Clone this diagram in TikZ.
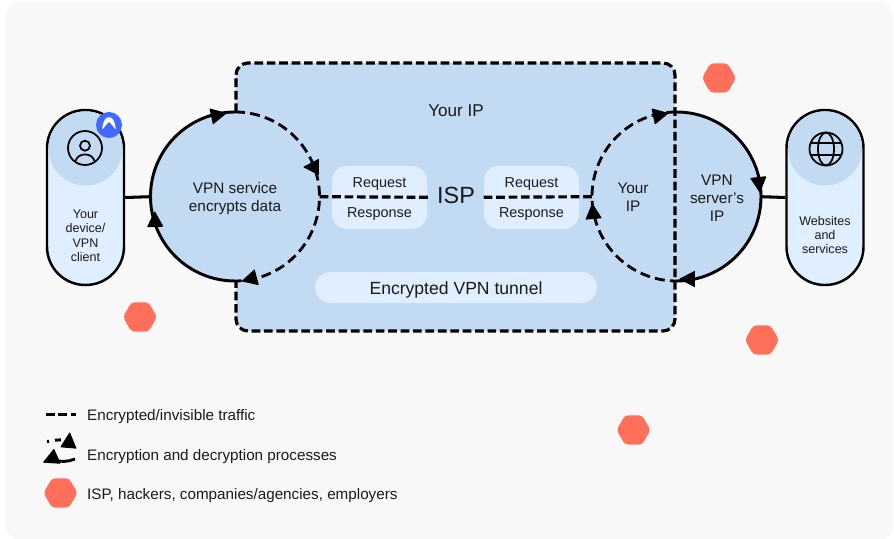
\documentclass[tikz,border=0pt]{standalone}
\usepackage{fontspec}
\setmainfont{Liberation Sans}
\usetikzlibrary{shapes.geometric}
\definecolor{pagegray}{HTML}{F8F8F8}
\definecolor{paleblue}{HTML}{E0EFFF}
\definecolor{midblue}{HTML}{C3DAF3}
\definecolor{coral}{HTML}{FF6F59}
\definecolor{badgeblue}{HTML}{4169FF}
\definecolor{inkblack}{HTML}{1A1A1A}
\begin{document}
\begin{tikzpicture}
[x=0.03cm, y=-0.03cm,
 pill/.style ={rectangle, draw=black, line width=2.1pt, fill=paleblue, minimum width=2.31cm, minimum height=5.25cm, rounded corners=1.15cm},
 crown/.style ={circle, fill=midblue, minimum size=2.22cm, inner sep=0pt},
 hub/.style ={circle, fill=midblue, minimum size=5.07cm, inner sep=0pt},
 msgbox/.style ={rectangle, fill=paleblue, minimum width=2.85cm, minimum height=1.89cm, rounded corners=0.45cm},
 lbl/.style ={text=inkblack, align=center, font=\fontsize{13.1pt}{15.3pt}\selectfont},
 small/.style ={text=inkblack, align=center, font=\fontsize{10.7pt}{12.3pt}\selectfont},
 msg/.style ={text=inkblack, align=center, font=\fontsize{12.3pt}{14pt}\selectfont},
 legend/.style ={text=inkblack, anchor=west, font=\fontsize{13pt}{15pt}\selectfont},
 spy/.style ={regular polygon, regular polygon sides=6, fill=coral, minimum size=1.02cm, inner sep=0pt, rounded corners=3pt},
 link/.style ={line width=2.6pt},
 loopline/.style ={line width=2.5pt},
 traffic/.style ={line width=2.7pt, dash pattern=on 7.4pt off 3.2pt},
 ringdash/.style ={line width=2.4pt, dash pattern=on 8.5pt off 4.5pt},
 icon/.style ={draw=black, line width=1.5pt},
 tip/.pic ={\fill[black, draw=black, line width=0.8pt, line join=round] (8,0) -- (-6.5,-7.5) -- (-6.5,7.5) -- cycle;}]
\useasboundingbox (0,0) rectangle (894,539);
\fill[white] (0,0) rectangle (894,539);
\fill[pagegray, rounded corners=0.42cm] (6,2) rectangle (893,540);
\fill[midblue, rounded corners=0.36cm] (236,63) rectangle (675,331);
\path (235,196.7) node[hub] (enc){}
      (676.5,196.7) node[hub] (dec){};
\draw[traffic, rounded corners=0.36cm] (236,112) |- (675,63) |- (236,331) -- (236,281);
\path (85.5,197.5) node[pill] (device){}
      (825,197.5) node[pill] (web){}
      (85.5,148.5) node[crown] (devcap){}
      (825,148.5) node[crown] (webcap){};
\draw[link] (device.east) -- (enc.west);
\draw[link] (dec.east) -- (web.west);
\draw[loopline] (235,112) arc[start angle=270, end angle=90, radius=84.5];
\draw[loopline] (676.5,112) arc[start angle=270, end angle=450, radius=84.5];
\draw[ringdash] (235,112) arc[start angle=270, end angle=450, radius=84.5];
\draw[ringdash] (676.5,112) arc[start angle=270, end angle=90, radius=84.5];
\path (379.5,197.5) node[msgbox] (reqa){}
      (531.5,197.5) node[msgbox] (reqb){}
      (456,287.5) node[rectangle, fill=paleblue, minimum width=8.46cm, minimum height=0.93cm, rounded corners=0.46cm] (tunnel){};
\node[text=inkblack, font=\fontsize{20pt}{24pt}\selectfont, inner sep=1pt] (isp) at (456,195) {ISP};
\draw[traffic] (enc.east) -- (430,197.3);
\draw[traffic] (dec.west) -- (481,197.3);
\path (379.5,184) node[msg] (rqa){Request}
      (379.5,214) node[msg] (rsa){Response}
      (531.5,184) node[msg] (rqb){Request}
      (531.5,214) node[msg] (rsb){Response};
\node[legend, anchor=center, font=\fontsize{15pt}{17pt}\selectfont] (tunneltxt) at (456,290) {Encrypted VPN tunnel};
\node[lbl, font=\fontsize{14.6pt}{17pt}\selectfont] (yourip) at (456,110.5) {Your IP};
\node[lbl] (enctxt) at (235,198.5) {VPN service\\encrypts data};
\node[lbl] (iptxt) at (633,197.5) {Your\\IP};
\node[lbl] (srvtxt) at (717,198.5) {VPN\\server’s\\IP};
\node[small] (devtxt) at (85.5,235.7) {Your\\device/\\VPN\\client};
\node[small] (webtxt) at (825,235) {Websites\\and\\services};
\pic[rotate=12] at (218,115) {tip};
\pic[rotate=180] at (312,167) {tip};
\pic[rotate=195] at (250,279) {tip};
\pic[rotate=92] at (155,220) {tip};
\pic[rotate=12] at (660,115) {tip};
\pic[rotate=-84] at (759,184) {tip};
\pic[rotate=180] at (688,279) {tip};
\pic[rotate=95] at (593,212) {tip};
\draw[icon] (85,148) circle (17);
\draw[icon] (85,145.7) circle (5);
\draw[icon] (75,162) .. controls (77,156) and (81,154.5) .. (85,154.5) .. controls (89,154.5) and (93,156) .. (95,162);
\node[circle, fill=badgeblue, minimum size=0.78cm, inner sep=0pt] (badge) at (109,125) {};
\fill[white, rounded corners=1pt] (102,130) .. controls (103,122) and (105,118) .. (109,117) .. controls (113,118) and (115,122) .. (116,130) -- (112,125) -- (109,121.5) -- (106,125) -- cycle;
\draw[icon] (826,149) circle (16.5);
\draw[icon] (826,149) ellipse (8 and 16.5);
\draw[icon] (811,143.3) -- (841,143.3);
\draw[icon] (811,155) -- (841,155);
\path (140,317) node[spy] (spya){}
      (719,78) node[spy] (spyb){}
      (762,340) node[spy] (spyc){}
      (633.5,430) node[spy] (spyd){}
      (60.5,493) node[spy] (spye){};
\coordinate (keystart) at (46,414.5);
\coordinate (keyend) at (76,414.5);
\draw[traffic] (keystart) -- (keyend);
\draw[line width=2.5pt] (47,441.5) -- (49,441.3);
\draw[line width=2.5pt] (55,440.2) -- (61,439.8);
\pic[rotate=85] at (69,441) {tip};
\draw[line width=2.5pt] (75,459) .. controls (68,462) and (60,462) .. (53,460);
\pic[rotate=204] at (51,459) {tip};
\node[legend] (keya) at (83,416.5) {Encrypted/invisible traffic};
\node[legend] (keyb) at (83,456.5) {Encryption and decryption processes};
\node[legend] (keyc) at (83,496) {ISP, hackers, companies/agencies, employers};
\end{tikzpicture}
\end{document}
